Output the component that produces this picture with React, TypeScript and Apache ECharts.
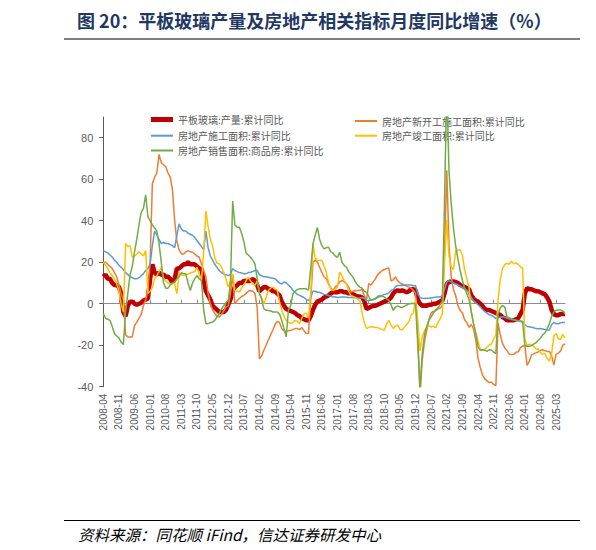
import React, { useEffect, useRef } from "react";
import * as echarts from "echarts";

// ---- categories: monthly, 2008-04 .. 2025-07 ----
const START_YEAR = 2008;
const START_MONTH = 4;
const MONTH_COUNT = 208;
const months: string[] = [];
for (let k = 0; k < MONTH_COUNT; k++) {
  const m = START_MONTH - 1 + k;
  const y = START_YEAR + Math.floor(m / 12);
  const mm = (m % 12) + 1;
  months.push(`${y}-${String(mm).padStart(2, "0")}`);
}

const Y_TICKS = [-40, -20, 0, 20, 40, 60, 80];

const seriesNames = [
  "平板玻璃:产量:累计同比",
  "房地产新开工施工面积:累计同比",
  "房地产施工面积:累计同比",
  "房地产竣工面积:累计同比",
  "房地产销售面积:商品房:累计同比",
];

// 平板玻璃:产量:累计同比
const glassOutput = [
  13, 14, 12, 12, 10, 9, 9, 8, 5,
  -4, -6, -1, 1, 1, 0, -0.5, 0, 0.5, 1.5, 2, 2.5,
  12, 19, 15, 14, 15, 14, 14, 13, 13, 12, 10, 12,
  17, 17, 18, 19, 19, 20, 19, 19, 19, 18, 17, 16.8,
  11, 6, 4, 2, -1, -2, -3, -4, -4, -4, -3, -0.5,
  2, 6, 8, 9, 10, 10, 11, 11, 11, 11, 12, 11,
  9, 6, 7, 8, 8, 7, 7, 6, 6, 5, 4, 1,
  -1, -2.5, -3, -3.5, -4, -4.5, -5.5, -6, -7, -7.5, -8, -8,
  -6, -3, -0.5, 1, 1.5, 2, 3, 3.5, 4, 5, 5.5, 5.5,
  5.5, 6, 6, 5.5, 5.5, 5, 5, 4.5, 4, 3.5, 3.5, 3,
  1.5, -2.5, -2, -1.5, -1, -1, -0.5, 0, 0.5, 1, 1.5, 2,
  3, 5, 6, 6.5, 6, 6.5, 6, 5.5, 6, 7, 7, 6.5,
  2, 0, -1, -1, -1, -0.5, -0.5, 0, 0, 0.5, 1, 1.5,
  5, 9.5, 10.5, 10.7, 10.7, 10.5, 10, 9, 8.5, 8, 7.5, 7,
  4, 2.5, 1.5, 1, 0, -1, -2.5, -3, -3, -3.5, -4, -4.5,
  -5, -5.5, -6.5, -7, -8, -8, -8, -8, -7.5, -7, -5, -3,
  5, 7.5, 7, 7, 6.5, 6, 6, 5.5, 5, 4.5, 3, 1,
  -3, -5, -5.5, -5.5, -5, -5, -5,
];

// 房地产新开工施工面积:累计同比
const newStarts = [
  20, 20, 19, 18, 17, 15, 13, 9, 4.8,
  2, -15, -16, -16, -16, -10.5, -9, -7, -5, -1, 2, 6.5,
  20, 58, 61, 63, 72, 68, 67, 66, 63, 61, 55, 40,
  30, 26, 24, 24, 25, 25.6, 25, 24.8, 24, 23, 22.4, 19.2,
  16, 13, 4.8, 0, -3, -4.8, -6, -6.4, -5, -3.5, -1.6, -1,
  5, 14, 0, 1.5, 2.5, 3.5, 4, 5, 6, 6.4, 6, 5,
  -2, -26.5, -25.2, -22.3, -20, -17.5, -15, -12.8, -10, -8.5, -9, -12,
  -13, -13.6, -13, -12.8, -12.5, -12, -12, -12.5, -11.5, -13, -14.4, -14.4,
  2, 20, 21, 20, 17.6, 15, 13, 12, 9.5, 7.5, 6.5, 8,
  9, 10.5, 11.2, 10.5, 9.6, 8, 5.6, 6, 6.4, 6.4, 6.4, 7,
  4, 1.6, 9.7, 9, 10.5, 12, 14, 15, 16, 16.5, 17, 17.2,
  11, 11.5, 13, 11, 10, 9.5, 9, 8.5, 8, 7.5, 6.5, 5,
  -15, -44.9, -27.2, -18.4, -12.8, -7.6, -4.5, -3.6, -3.4, -2.6, -2.0, -1.2,
  25, 64.3, 28.2, 12.8, 6.9, 3.8, -0.9, -3.2, -4.5, -7.7, -9.1, -11.4,
  -10, -12.2, -17.5, -26.3, -30.6, -34.4, -36.1, -37.2, -38, -37.8, -38.9, -39.4,
  -9.4, -15, -19.2, -21.2, -22.6, -24.3, -24.5, -24.4, -23.4, -23.2, -21.2, -20.4,
  -20, -29.7, -27.8, -24.6, -24.2, -23.7, -23.2, -22.5, -22.2, -22.6, -23, -23,
  -25, -29.6, -24.4, -23.8, -22.8, -20, -19.4,
];

// 房地产施工面积:累计同比
const underConstruction = [
  25.6, 25, 24.5, 23.5, 22.5, 21, 20, 18.5, 17.6,
  16.5, 15, 14, 13, 12.5, 12, 12, 12.5, 13.5, 14.5, 16, 17,
  19, 28, 35, 33, 31, 29, 29.5, 29, 29, 28.5, 28, 27,
  33, 38.5, 36, 35, 35, 34, 33.5, 33, 32, 30.5, 29, 27.5,
  26, 35, 27, 23, 21, 19, 17.5, 16, 15, 14.3, 14, 13.6,
  14, 17, 16, 15.5, 15, 14.8, 14.5, 14.5, 15, 15.2, 15.5, 16,
  16, 14, 13.5, 13, 13, 12.8, 12.5, 12.3, 12, 11, 10, 9.5,
  10.5, 10, 9, 8, 6.5, 5.5, 4.5, 4, 3.5, 3, 2, 1.5,
  3, 6, 6, 5.5, 5.5, 5, 4.5, 4.3, 4, 3.5, 3.3, 3.2,
  3, 3.1, 3.2, 3.2, 3.1, 3, 3, 2.9, 2.9, 2.8, 2.6, 3,
  2.5, 1.5, 1.6, 1.8, 2, 2.4, 3, 3.5, 4, 4.5, 4.7, 5.2,
  6.5, 6.8, 8.2, 8.8, 8.8, 8.8, 9, 9, 9, 9, 8.7, 8.7,
  5, 2.9, 2.6, 2.5, 2.6, 2.6, 2.8, 3, 3.1, 3.2, 3.3, 3.7,
  7, 10.5, 11, 10.5, 10, 9.5, 9, 8.5, 7.9, 7.1, 6.5, 5.2,
  3, 1.5, 0.5, -0.5, -1.5, -2.8, -3.7, -4.5, -5.3, -5.7, -6.2, -7.2,
  -6.8, -6.5, -6.3, -6.5, -7, -7.3, -7.6, -7.8, -8, -8.2, -8.3, -8.5,
  -10, -11, -11.1, -11.3, -11.6, -12, -12.1, -12, -12.2, -12.4, -12.7, -12.7,
  -10, -9.1, -9.5, -9.7, -9.2, -9.1, -9.1,
];

// 房地产竣工面积:累计同比
const completions = [
  20, 18.5, 16.8, 15, 13.6, 12, 9.6, 6, 0,
  -4, 29, 27.5, 28, 22.4, 23, 24, 25, 24, 23, 25.6, 5,
  6, 8, 12, 13.5, 15.5, 17.6, 12, 11, 10, 9.6, 9.6, 9.6,
  4.8, 15, 14, 13.6, 14, 14.3, 14.8, 15.2, 15.5, 17.6, 14, 11.2,
  25, 44.8, 37, 31, 28, 22, 19.5, 19.2, 17.6, 15, 12, 8,
  11, 14.4, 6.4, 6, 5.6, 7.5, 9, 11, 12.8, 11, 9.5, 8.8,
  11, 5, 3, 0, 3, 6.4, 7.5, 8, 7, 6.4, 1, -3,
  -6, -8, -9, -9.6, -9, -8, -8.5, -9.5, -7, -5, -4.5, -7,
  5, 28.8, 22, 20.8, 20.8, 21, 18, 15.2, 10, 7, 6.4, 6.8,
  8, 15.2, 13.5, 11, 9.6, 6, 4, 3.5, 3, 2.2, 1.6, -4.4,
  -9, -12, -11.5, -11, -11.2, -11.5, -11.5, -12, -12.5, -12.8, -10, -8,
  -10.4, -11.9, -10.8, -10.3, -12.4, -12.7, -11.3, -10, -8.6, -5.5, -4.5, 2.6,
  -8, -22.9, -15.8, -13, -11.3, -10.5, -11.3, -10.8, -11.6, -9.2, -7.3, -4.9,
  20, 40.4, 22.9, 17.9, 16.4, 25.7, 25.7, 26, 23.4, 16.3, 12, 8,
  -4, -9.8, -14, -18, -22, -22.5, -22, -21, -20, -19.5, -17, -15,
  2, 12, 17, 18.8, 19.6, 19, 20.5, 19.2, 19.8, 19, 17.9, 17,
  -17, -20.2, -19.5, -20, -20.5, -21.8, -21.8, -23.6, -24.4, -24, -26.2, -27.7,
  -24, -15.6, -14.3, -16.9, -17.3, -14.8, -16.5,
];

// 房地产销售面积:商品房:累计同比
const salesArea = [
  -4.8, -7, -7.5, -8, -11, -14.4, -15.5, -16.5, -18.5,
  -19.7, -3.5, 5, 14, 18, 25, 31, 38, 44, 46, 52.5, 42,
  40, 38, 36.5, 35, 29, 20, 10, 7.5, 7.5, 9, 10, 10.5,
  12, 13, 15, 14.5, 14.4, 10, 6.4, 10, 12, 13.6, 12, 11.2,
  -3, -9.6, -9.6, -9.2, -8.8, -8, -6.4, -4.5, -2.5, -1, 0.5, 1.6,
  10, 49.5, 38, 36.8, 36.8, 34, 30, 24.5, 23.5, 22.4, 21, 19.2,
  12, 5, 2, -2.5, -3.2, -3.2, -3.5, -4, -4, -4, -5, -8,
  -12, -16, -3, -1, 4.8, 6, 6.8, 7.2, 7.2, 7.2, 7.2, 6.5,
  17, 28.8, 33, 36.8, 31, 28, 26.4, 27, 27.2, 25, 24.4, 23,
  22.4, 24.8, 20, 18.5, 17.6, 15.5, 14, 12.8, 10.5, 9, 8, 7.5,
  6, 5.6, 3.5, 1.6, 2, 2.4, 3.5, 4, 3.6, 3.2, 2.4, 1.6,
  -0.5, -3.2, -1.6, -1, -1.6, -1.8, -1.3, -0.6, -0.1, 0.1, 0.2, -0.1,
  -20, -39.9, -24, -15, -11, -8, -6.3, -4.5, -3, -2, -0.5, 1.3,
  50, 104.9, 63.8, 48.1, 36.3, 27.7, 21.5, 15.9, 11.3, 7.3, 4.8, 1.9,
  -4, -9.6, -14.4, -20.9, -22.4, -22.2, -22.4, -23, -22.2, -22.3, -23.3, -24,
  -4.8, -2, -0.8, -1.6, -6.4, -6.8, -7.2, -7.6, -8, -8.3, -8.6, -8.8,
  -20, -20.5, -20.5, -20.2, -19.5, -18.8, -17.6, -16.5, -15, -14, -12, -9.6,
  -6, -4, -3.2, -3, -3, -3.5, -4.8,
];

const seriesData = [glassOutput, newStarts, underConstruction, completions, salesArea];
const seriesColors = ["#C00000", "#ED7D31", "#5B9BD5", "#FFC000", "#70AD47"];
const seriesWidths = [4.5, 1.5, 1.5, 1.5, 1.5];

const CJK = '"Noto Sans CJK SC", "Noto Sans", sans-serif';
const LATIN = '"Liberation Sans", Arial, sans-serif';

export default function App() {
  const ref = useRef<HTMLDivElement>(null);

  useEffect(() => {
    if (!ref.current) return;
    const chart = echarts.init(ref.current, undefined, { renderer: "svg" });

    // legend rows (centre y) and columns (icon left x)
    const legendPos = [
      { left: 151, cy: 117 },
      { left: 355, cy: 117 },
      { left: 151, cy: 131.7 },
      { left: 355, cy: 131.7 },
      { left: 151, cy: 146.5 },
    ];

    const legends = seriesNames.map((name, k) => {
      const h = k === 0 ? 5 : 2;
      return {
        data: [{ name, icon: "rect" }],
        left: legendPos[k].left,
        top: legendPos[k].cy - h / 2,
        padding: 0,
        itemWidth: 22,
        itemHeight: h,
        selectedMode: false,
        textStyle: { fontSize: 10, color: "#595959", fontFamily: CJK },
      };
    });

    chart.setOption({
      animation: false,
      backgroundColor: "#ffffff",
      grid: { left: 103.3, right: 31, top: 117, bottom: 163.3, containLabel: false },
      legend: legends,
      xAxis: {
        type: "category",
        data: months,
        boundaryGap: false,
        axisLine: { onZero: true, lineStyle: { color: "#8c8c8c", width: 1.2 } },
        axisTick: { show: true, inside: true, interval: 6, length: 4, lineStyle: { color: "#8c8c8c" } },
        axisLabel: {
          interval: 6,
          rotate: 90,
          margin: 7,
          fontSize: 10,
          color: "#595959",
          fontFamily: LATIN,
        },
        splitLine: { show: false },
      },
      yAxis: {
        type: "value",
        min: -40,
        max: 90,
        interval: 20,
        axisLine: { show: true, lineStyle: { color: "#595959", width: 1 } },
        axisTick: { show: true, length: 4, customValues: Y_TICKS, lineStyle: { color: "#595959" } },
        axisLabel: {
          customValues: Y_TICKS,
          margin: 10,
          fontSize: 11,
          color: "#595959",
          fontFamily: LATIN,
        },
        splitLine: { show: false },
      },
      series: seriesNames.map((name, k) => ({
        name,
        type: "line",
        data: seriesData[k],
        symbol: "none",
        showSymbol: false,
        clip: true,
        color: seriesColors[k],
        lineStyle: { color: seriesColors[k], width: seriesWidths[k] },
        z: 2 + k,
      })),
      graphic: [
        {
          type: "text",
          x: 77,
          y: 20,
          style: {
            text: "图 20：平板玻璃产量及房地产相关指标月度同比增速（%）",
            fontSize: 18,
            fontWeight: "bold",
            fontFamily: CJK,
            fill: "#1F3864",
            verticalAlign: "middle",
          },
        },
        {
          type: "line",
          shape: { x1: 64, y1: 39, x2: 580, y2: 39 },
          style: { stroke: "#7f7f7f", lineWidth: 2 },
        },
        {
          type: "line",
          shape: { x1: 64, y1: 520.5, x2: 580, y2: 520.5 },
          style: { stroke: "#000000", lineWidth: 1 },
        },
        {
          type: "text",
          x: 78,
          y: 533.5,
          style: {
            text: "资料来源：同花顺 iFind，信达证券研发中心",
            fontSize: 15.5,
            fontStyle: "italic",
            fontFamily: CJK,
            fill: "#000000",
            verticalAlign: "middle",
          },
        },
      ],
    });

    return () => chart.dispose();
  }, []);

  return (
    <div
      ref={ref}
      style={{ position: "absolute", left: 0, top: 0, width: 596, height: 550 }}
    />
  );
}
